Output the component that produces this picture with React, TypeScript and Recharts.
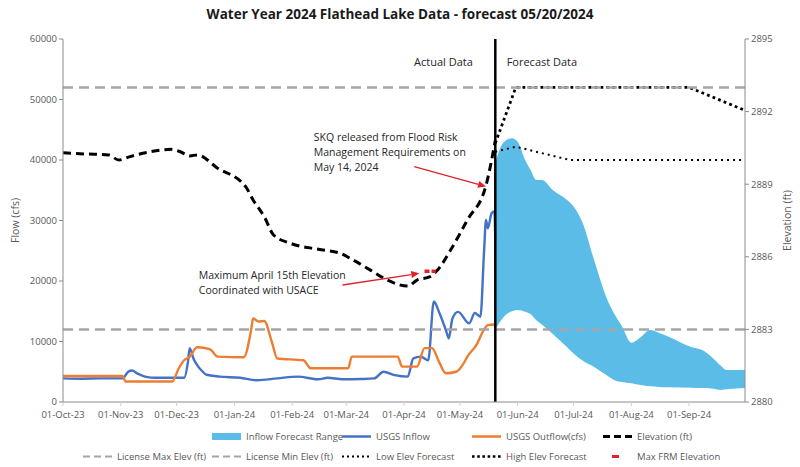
import React from "react";
import {
  ComposedChart,
  Line,
  Area,
  XAxis,
  YAxis,
  ReferenceLine,
  ReferenceDot,
} from "recharts";

const FONT = "'Open Sans', sans-serif";

// x values are days since 01-Oct-2023
const xTicks = [0, 31, 61, 92, 123, 152, 183, 213, 244, 274, 305, 336];
const xTickLabels = [
  "01-Oct-23", "01-Nov-23", "01-Dec-23", "01-Jan-24", "01-Feb-24", "01-Mar-24",
  "01-Apr-24", "01-May-24", "01-Jun-24", "01-Jul-24", "01-Aug-24", "01-Sep-24",
];
const flowTicks = [0, 10000, 20000, 30000, 40000, 50000, 60000];
const elevTicks = [2880, 2883, 2886, 2889, 2892, 2895];

const forecastDay = 232; // 20-May-24
const licenseMaxElev = 2893;
const licenseMinElev = 2883;

const inflowDays = [0, 10, 20, 32, 35, 37, 40, 44, 50, 60, 65, 67, 68, 70, 72, 75, 77, 84, 95, 104, 115, 126, 137, 142, 150, 160, 167, 172, 178, 185, 188, 192, 196, 199, 202, 206, 207, 209, 212, 218, 221, 224, 226, 227, 228, 230, 231.5, 232];
const inflowCfs = [3900, 3850, 3900, 3900, 5000, 5200, 4700, 4200, 4000, 4000, 4000, 6500, 8900, 7200, 6100, 5000, 4500, 4200, 4000, 3600, 3900, 4200, 3750, 4000, 3750, 3800, 3900, 5000, 4450, 4200, 7200, 7500, 6900, 16600, 14700, 11400, 10500, 13800, 14900, 13000, 14700, 14100, 25100, 30100, 28700, 31200, 31500, 26800];

const outflowDays = [0, 32, 33.5, 58.6, 62, 65, 68, 72, 79, 83, 97, 101, 102, 105, 108, 112, 115, 129, 133, 153, 155, 179.6, 182, 190, 194, 198, 202, 205.5, 211, 215, 217, 222, 226, 228, 232];
const outflowCfs = [4300, 4300, 3400, 3400, 5500, 6900, 7500, 9050, 8700, 7500, 7400, 12000, 13800, 13300, 13400, 10000, 7200, 6900, 5570, 5570, 7500, 7500, 5850, 5850, 8900, 8900, 6500, 4750, 5000, 6400, 7500, 9500, 12000, 12700, 12800];

const elevDays = [0, 12, 24.5, 30, 36, 47, 58, 63, 68, 72, 83, 98, 102, 108, 113, 122, 137, 149, 154, 165, 174, 185, 190, 197, 201, 208, 217, 227, 232];
const elevFt = [2890.3, 2890.25, 2890.21, 2890.0, 2890.14, 2890.34, 2890.44, 2890.34, 2890.17, 2890.21, 2889.66, 2888.9, 2888.35, 2887.66, 2886.9, 2886.56, 2886.31, 2886.14, 2885.94, 2885.45, 2885.04, 2884.79, 2885.04, 2885.18, 2885.45, 2886.28, 2887.52, 2888.95, 2890.8];

const lowElevDays = [232, 243, 272, 366];
const lowElevFt = [2890.34, 2890.55, 2890.0, 2890.0];

const highElevDays = [232, 243, 336, 366];
const highElevFt = [2890.7, 2893.0, 2893.0, 2892.05];

const maxFrmDays = [194, 200];
const maxFrmFt = [2885.4, 2885.4];

const rangeDays = [232, 234, 238, 241, 244, 248, 251, 254, 257, 263, 270, 274, 279, 285, 292, 296, 300, 305, 310, 315, 320, 325, 337, 343, 348, 353, 356, 366];
const rangeHigh = [39500, 41500, 43300, 43600, 43000, 40000, 38300, 36700, 36700, 35000, 33500, 32300, 29500, 23500, 17000, 14500, 12500, 9800, 10700, 11900, 11400, 10800, 9100, 8600, 7500, 6000, 5300, 5300];
const rangeLow = [12000, 13000, 14500, 15000, 15200, 14900, 14500, 13500, 12800, 11200, 9200, 8000, 6800, 5800, 4400, 3600, 3300, 3100, 2800, 2600, 2500, 2450, 2350, 2300, 2250, 2000, 2100, 2300];

const toRows = (days: number[], vals: number[]) => days.map((d, i) => ({ day: d, v: vals[i] }));

const inflowData = toRows(inflowDays, inflowCfs);
const outflowData = toRows(outflowDays, outflowCfs);
const elevData = toRows(elevDays, elevFt);
const lowElevData = toRows(lowElevDays, lowElevFt);
const highElevData = toRows(highElevDays, highElevFt);
const maxFrmData = toRows(maxFrmDays, maxFrmFt);
const rangeData = rangeDays.map((d, i) => ({ day: d, v: [rangeLow[i], rangeHigh[i]] }));

const C = {
  range: "#5BBDE7",
  inflow: "#4472C4",
  outflow: "#ED7D31",
  elev: "#000000",
  license: "#A6A6A6",
  red: "#E0202A",
  axis: "#8C8C8C",
  tick: "#595959",
  text: "#262626",
};

const tickLabel = (d: number) => xTickLabels[xTicks.indexOf(d)] ?? "";

// red annotation arrow drawn from a reference segment
const Arrow = (p: any) => {
  const { x1, y1, x2, y2 } = p;
  const a = Math.atan2(y2 - y1, x2 - x1);
  const L = 8, W = 3.5;
  const bx = x2 - L * Math.cos(a), by = y2 - L * Math.sin(a);
  const px = -Math.sin(a) * W, py = Math.cos(a) * W;
  return (
    <g>
      <line x1={x1} y1={y1} x2={bx} y2={by} stroke={C.red} strokeWidth={1.3} />
      <polygon points={`${x2},${y2} ${bx + px},${by + py} ${bx - px},${by - py}`} fill={C.red} />
    </g>
  );
};

const noteText = (lines: string[], size = 10.5, anchor = "start") => (p: any) => (
  <text x={p.cx} y={p.cy} fontFamily={FONT} fontSize={size} fill={C.text} textAnchor={anchor}>
    {lines.map((l, i) => (
      <tspan key={i} x={p.cx} dy={i === 0 ? 4 : 15.3}>{l}</tspan>
    ))}
  </text>
);

const legendRows = [
  [
    { label: "Inflow Forecast Range", kind: "rect", color: C.range, left: 212 },
    { label: "USGS Inflow", kind: "line", color: C.inflow, left: 342 },
    { label: "USGS Outflow(cfs)", kind: "line", color: C.outflow, left: 472 },
    { label: "Elevation (ft)", kind: "dash", color: C.elev, left: 603 },
  ],
  [
    { label: "License Max Elev (ft)", kind: "gray", color: C.license, left: 83 },
    { label: "License Min Elev (ft)", kind: "gray", color: C.license, left: 212 },
    { label: "Low Elev Forecast", kind: "dot", color: C.elev, left: 342 },
    { label: "High Elev Forecast", kind: "bigdot", color: C.elev, left: 472 },
    { label: "Max FRM Elevation", kind: "red", color: C.red, left: 603 },
  ],
];

const Symbol = ({ kind, color }: { kind: string; color: string }) => {
  if (kind === "rect") return <rect x={0} y={2} width={29} height={7} fill={color} />;
  if (kind === "line") return <line x1={0} x2={29} y1={5.5} y2={5.5} stroke={color} strokeWidth={2.5} />;
  if (kind === "dash") return <line x1={0} x2={29} y1={5.5} y2={5.5} stroke={color} strokeWidth={3} strokeDasharray="7 4" />;
  if (kind === "gray") return <line x1={0} x2={29} y1={5.5} y2={5.5} stroke={color} strokeWidth={2} strokeDasharray="7 4" />;
  if (kind === "dot") return <line x1={0} x2={29} y1={5.5} y2={5.5} stroke={color} strokeWidth={2} strokeDasharray="2 3" />;
  if (kind === "bigdot") return <line x1={0} x2={29} y1={5.5} y2={5.5} stroke={color} strokeWidth={2.6} strokeDasharray="2.6 2.6" />;
  return <line x1={9} x2={16} y1={5.5} y2={5.5} stroke={color} strokeWidth={3} />;
};

const ChartLegend = () => (
  <div style={{ position: "absolute", left: 0, top: 430, width: 800 }}>
    {legendRows.map((row, r) =>
      row.map((it) => (
        <div
          key={it.label}
          style={{
            position: "absolute",
            left: it.left,
            top: r * 20,
            display: "flex",
            alignItems: "center",
            fontFamily: FONT,
            fontSize: 9.5,
            color: C.tick,
            whiteSpace: "nowrap",
            height: 12,
          }}
        >
          <svg width={30} height={11} style={{ marginRight: 4 }}>
            <Symbol kind={it.kind} color={it.color} />
          </svg>
          <span>{it.label}</span>
        </div>
      ))
    )}
  </div>
);

const axisLabel = (text: string, side: "left" | "right") => (p: any) => {
  const vb = p.viewBox;
  const x = side === "left" ? vb.x + 6 : vb.x + vb.width + 1;
  const y = vb.y + vb.height / 2;
  return (
    <text
      x={x}
      y={y}
      transform={`rotate(-90 ${x} ${y})`}
      textAnchor="middle"
      fontFamily={FONT}
      fontSize={10.5}
      fill={C.tick}
    >
      {text}
    </text>
  );
};

export default function App() {
  return (
    <div style={{ position: "absolute", left: 0, top: 0, width: 800, height: 467, background: "#fff" }}>
      <div
        style={{
          position: "absolute",
          top: 5,
          width: 800,
          textAlign: "center",
          fontFamily: FONT,
          fontWeight: 700,
          fontSize: 13.5,
          color: "#1a1a1a",
        }}
      >
        Water Year 2024 Flathead Lake Data - forecast 05/20/2024
      </div>
      <ComposedChart width={800} height={467} margin={{ top: 39, right: 10, bottom: 40, left: 13 }}>
        <XAxis
          xAxisId="t"
          dataKey="day"
          type="number"
          domain={[0, 366]}
          ticks={xTicks}
          tickFormatter={tickLabel}
          interval={0}
          height={25}
          tick={{ fontFamily: FONT, fontSize: 9.5, fill: C.tick, dy: 3 }}
          axisLine={{ stroke: C.axis }}
          tickLine={{ stroke: "#D0D0D0" }}
          tickSize={4}
          allowDataOverflow
        />
        <YAxis
          yAxisId="flow"
          domain={[0, 60000]}
          ticks={flowTicks}
          width={50}
          tick={{ fontFamily: FONT, fontSize: 9.5, fill: C.tick }}
          axisLine={{ stroke: C.axis }}
          tickLine={{ stroke: C.axis }}
          tickSize={4}
          label={{ content: axisLabel("Flow (cfs)", "left") }}
        />
        <YAxis
          yAxisId="elev"
          orientation="right"
          domain={[2880, 2895]}
          ticks={elevTicks}
          width={45}
          tick={{ fontFamily: FONT, fontSize: 9.5, fill: C.tick }}
          axisLine={{ stroke: C.axis }}
          tickLine={{ stroke: C.axis }}
          tickSize={4}
          label={{ content: axisLabel("Elevation (ft)", "right") }}
        />

        <Area
          xAxisId="t"
          yAxisId="flow"
          data={rangeData}
          dataKey="v"
          type="monotone"
          stroke="none"
          fill={C.range}
          fillOpacity={1}
          isAnimationActive={false}
        />
        <Line xAxisId="t" yAxisId="flow" data={inflowData} dataKey="v" type="monotone" stroke={C.inflow} strokeWidth={2.4} dot={false} isAnimationActive={false} />
        <Line xAxisId="t" yAxisId="flow" data={outflowData} dataKey="v" type="monotone" stroke={C.outflow} strokeWidth={2.4} dot={false} isAnimationActive={false} />
        <Line xAxisId="t" yAxisId="elev" data={elevData} dataKey="v" type="monotone" stroke={C.elev} strokeWidth={3} strokeDasharray="8 5" dot={false} isAnimationActive={false} />
        <Line xAxisId="t" yAxisId="elev" data={lowElevData} dataKey="v" type="linear" stroke={C.elev} strokeWidth={2} strokeDasharray="2 4" dot={false} isAnimationActive={false} />
        <Line xAxisId="t" yAxisId="elev" data={highElevData} dataKey="v" type="linear" stroke={C.elev} strokeWidth={2.8} strokeDasharray="2.8 3.2" dot={false} isAnimationActive={false} />
        <Line xAxisId="t" yAxisId="elev" data={maxFrmData} dataKey="v" type="linear" stroke={C.red} strokeWidth={3.5} strokeDasharray="5 2" dot={false} isAnimationActive={false} />

        <ReferenceLine xAxisId="t" yAxisId="elev" y={licenseMaxElev} stroke={C.license} strokeWidth={2.5} strokeDasharray="10 6" />
        <ReferenceLine xAxisId="t" yAxisId="elev" y={licenseMinElev} stroke={C.license} strokeWidth={2.5} strokeDasharray="10 6" />
        <ReferenceLine xAxisId="t" yAxisId="flow" x={forecastDay} stroke="#000" strokeWidth={2.5} />

        <ReferenceLine
          xAxisId="t"
          yAxisId="flow"
          segment={[{ x: 188.5, y: 38900 }, { x: 227, y: 35600 }]}
          shape={Arrow}
        />
        <ReferenceLine
          xAxisId="t"
          yAxisId="flow"
          segment={[{ x: 150, y: 19340 }, { x: 191.2, y: 21270 }]}
          shape={Arrow}
        />
        <ReferenceDot
          xAxisId="t"
          yAxisId="flow"
          x={134.6}
          y={43850}
          shape={noteText(["SKQ released from Flood Risk", "Management Requirements on", "May 14, 2024"])}
        />
        <ReferenceDot
          xAxisId="t"
          yAxisId="flow"
          x={72.9}
          y={20990}
          shape={noteText(["Maximum April 15th Elevation", "Coordinated with USACE"])}
        />
        <ReferenceDot xAxisId="t" yAxisId="flow" x={204.2} y={56200} shape={noteText(["Actual Data"], 11, "middle")} />
        <ReferenceDot xAxisId="t" yAxisId="flow" x={257} y={56200} shape={noteText(["Forecast Data"], 11, "middle")} />
      </ComposedChart>
      <ChartLegend />
    </div>
  );
}
